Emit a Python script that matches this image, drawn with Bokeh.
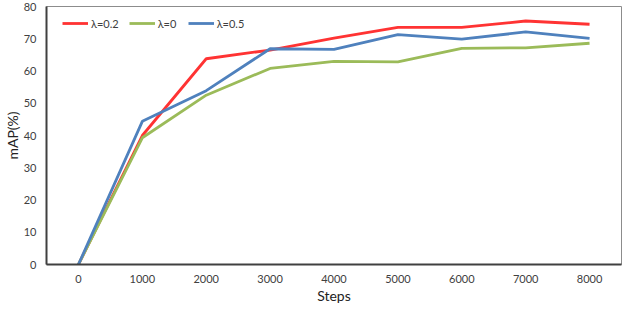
from bokeh.plotting import figure
from bokeh.models import FixedTicker, Range1d, Legend
from bokeh.embed import file_html
from bokeh.resources import INLINE

steps = [0, 1000, 2000, 3000, 4000, 5000, 6000, 7000, 8000]
lam02 = [0, 40.0, 63.8, 66.5, 70.2, 73.5, 73.5, 75.5, 74.5]
lam0 = [0, 39.3, 52.5, 60.8, 63.0, 62.8, 67.0, 67.2, 68.6]
lam05 = [0, 44.4, 53.9, 66.9, 66.7, 71.3, 69.9, 72.1, 70.1]
yticks = [0, 10, 20, 30, 40, 50, 60, 70, 80]

FONT = "Lato"
W, H = 624, 306
BT, BB, BL, BR = 6, 42, 44, 3

p = figure(width=W, height=H, output_backend="svg", toolbar_location=None,
           x_range=Range1d(-500, 8500), y_range=Range1d(0, 80),
           min_border_top=BT, min_border_bottom=BB, min_border_left=BL, min_border_right=BR)
p.background_fill_color = "white"
p.border_fill_color = "white"
p.outline_line_color = "#8c8c8c"
p.outline_line_width = 1
p.xgrid.visible = False
p.ygrid.visible = False

r1 = p.line(steps, lam02, line_color="#ff3333", line_width=2.8)
r2 = p.line(steps, lam0, line_color="#9bbb59", line_width=2.8)
r3 = p.line(steps, lam05, line_color="#4f81bd", line_width=2.8)

for ax in (p.xaxis[0], p.yaxis[0]):
    ax.axis_line_color = "#404040"
    ax.axis_line_width = 2
    ax.major_tick_line_color = None
    ax.minor_tick_line_color = None
    ax.major_tick_out = 0
    ax.major_tick_in = 0
    ax.minor_tick_out = 0
    ax.minor_tick_in = 0
    ax.major_label_text_font = FONT
    ax.major_label_text_font_size = "11px"
    ax.major_label_text_color = "#404040"
    ax.axis_label_text_font = FONT
    ax.axis_label_text_font_size = "14px"
    ax.axis_label_text_font_style = "normal"
    ax.axis_label_text_color = "#222222"

p.xaxis.ticker = FixedTicker(ticks=steps)
p.yaxis.ticker = FixedTicker(ticks=yticks)
p.xaxis.axis_label = "Steps"
p.yaxis.axis_label = "mAP(%)"
p.xaxis.major_label_standoff = 10
p.xaxis.axis_label_standoff = 1
p.yaxis.major_label_standoff = 10
p.yaxis.axis_label_standoff = 0

frame_h = H - BT - BB
legend = Legend(items=[("λ=0.2", [r1]), ("λ=0", [r2]), ("λ=0.5", [r3])],
                orientation="horizontal", location=(16, frame_h - 27))
legend.border_line_color = None
legend.background_fill_alpha = 0
legend.padding = 0
legend.margin = 0
legend.spacing = 10
legend.glyph_width = 26
legend.glyph_height = 20
legend.label_height = 20
legend.label_standoff = 3
legend.label_text_font = FONT
legend.label_text_font_size = "11px"
legend.label_text_color = "#404040"
p.add_layout(legend, "center")

open("out.html", "w").write(file_html(p, INLINE))
